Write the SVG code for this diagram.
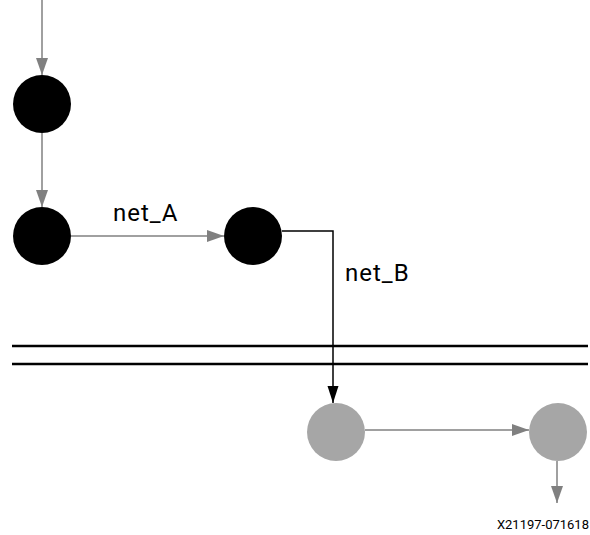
<svg xmlns="http://www.w3.org/2000/svg" width="590" height="535" viewBox="0 0 590 535">
<style>
.g{stroke:#808080;stroke-width:1.5;fill:none}
.k{stroke:#000;stroke-width:1.5;fill:none}
.bar{stroke:#000;stroke-width:2.5}
.t{font-family:Roboto,"Liberation Sans",sans-serif;font-size:24px;letter-spacing:1px;fill:#000}
.s{font-family:Roboto,"Liberation Sans",sans-serif;font-size:13px;fill:#000}
</style>
<defs>
<marker id="ag" markerUnits="userSpaceOnUse" markerWidth="18" markerHeight="14" refX="17" refY="7" orient="auto"><path d="M0,1 L17,7 L0,13 Z" fill="#808080"/></marker>
<marker id="ak" markerUnits="userSpaceOnUse" markerWidth="18" markerHeight="14" refX="17" refY="6" orient="auto"><path d="M0,0.5 L17,6 L0,11.5 Z" fill="#000"/></marker>
</defs>
<rect width="590" height="535" fill="#fff"/>
<g id="connectors">
<line class="g" x1="42" y1="0" x2="42" y2="75" marker-end="url(#ag)"/>
<line class="g" x1="42" y1="133" x2="42" y2="207" marker-end="url(#ag)"/>
<line class="g" x1="71" y1="236" x2="224" y2="236" marker-end="url(#ag)"/>
<polyline class="k" points="282,231 333,231 333,403" marker-end="url(#ak)"/>
<line class="g" x1="365" y1="430" x2="529" y2="430" marker-end="url(#ag)"/>
<line class="g" x1="557" y1="461" x2="557" y2="503" marker-end="url(#ag)"/>
</g>
<g id="boundary">
<line class="bar" x1="12" y1="346" x2="588" y2="346"/>
<line class="bar" x1="12" y1="364" x2="588" y2="364"/>
</g>
<g id="n1"><circle cx="42" cy="104" r="29" fill="#000"/></g>
<g id="n2"><circle cx="42" cy="236" r="29" fill="#000"/></g>
<g id="n3"><circle cx="253" cy="236" r="29" fill="#000"/></g>
<g id="n4"><circle cx="336" cy="432" r="29" fill="#a6a6a6"/></g>
<g id="n5"><circle cx="558" cy="432" r="29" fill="#a6a6a6"/></g>
<g id="labels">
<text class="t" x="113" y="221">net_A</text>
<text class="t" x="345" y="281">net_B</text>
<text class="s" x="589" y="529" text-anchor="end">X21197-071618</text>
</g>
</svg>
